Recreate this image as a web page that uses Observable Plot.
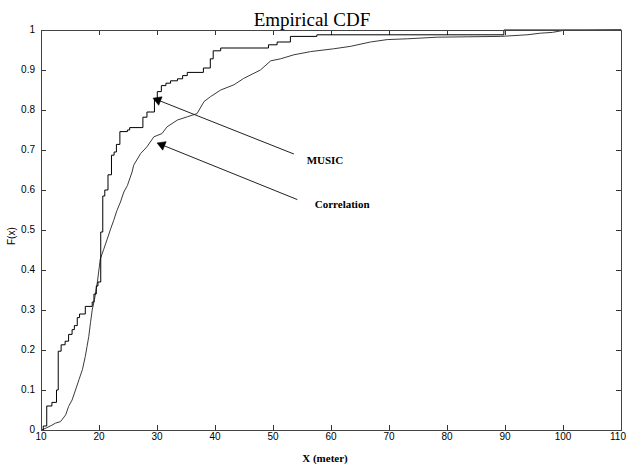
<!DOCTYPE html>
<html>
<head>
<meta charset="utf-8">
<script src="https://cdn.jsdelivr.net/npm/d3@7"></script>
<script src="https://cdn.jsdelivr.net/npm/@observablehq/plot@0.6"></script>
<style>
  html, body { margin: 0; padding: 0; background: #fff; }
  #chart svg { display: block; }
</style>
</head>
<body>
<div id="chart"></div>
<script>
// ---- data ----
const xTicks = [10, 20, 30, 40, 50, 60, 70, 80, 90, 100, 110];
const yTicks = [0, 0.1, 0.2, 0.3, 0.4, 0.5, 0.6, 0.7, 0.8, 0.9, 1];
const yTickLabels = ["0", "0.1", "0.2", "0.3", "0.4", "0.5", "0.6", "0.7", "0.8", "0.9", "1"];

// MUSIC empirical CDF (step positions and level after each step)
const musicX = [10.1, 10.39, 10.99, 11.88, 12.67, 12.97, 13.47, 14.16, 14.76, 15.36, 15.75, 16.25, 16.65, 17.64, 18.83, 19.13, 19.53, 19.82, 20.3, 20.65, 21.0, 21.55, 22.15, 22.6, 23.0, 23.6, 24.89, 25.29, 27.57, 28.27, 29.56, 30.05, 30.75, 31.54, 32.34, 33.53, 34.42, 35.22, 38.0, 39.19, 39.69, 40.98, 49.22, 50.71, 53.0, 57.56, 89.8, 110];
const musicY = [0, 0.01, 0.06, 0.069, 0.10, 0.197, 0.213, 0.222, 0.239, 0.251, 0.261, 0.281, 0.29, 0.309, 0.32, 0.34, 0.36, 0.37, 0.495, 0.585, 0.60, 0.638, 0.687, 0.695, 0.714, 0.746, 0.75, 0.756, 0.782, 0.795, 0.828, 0.846, 0.861, 0.867, 0.873, 0.878, 0.886, 0.894, 0.905, 0.928, 0.948, 0.955, 0.963, 0.970, 0.984, 0.988, 1.0, 1.0];

// Correlation empirical CDF (fine steps, traced)
const corrX = [10.19, 10.89, 11.88, 12.48, 13.37, 14.26, 14.76, 15.36, 15.95, 16.55, 17.14, 17.64, 17.94, 18.24, 18.53, 18.83, 19.23, 19.72, 20.22, 20.82, 21.41, 22.01, 22.51, 23.1, 23.7, 24.28, 24.89, 25.7, 25.98, 27.17, 28.27, 29.46, 30.85, 31.74, 33.53, 35.22, 36.91, 38.10, 39.19, 40.98, 43.26, 44.95, 47.83, 49.62, 51.31, 53.6, 56.47, 60.44, 63.32, 66.80, 69.68, 73.15, 78.32, 83.48, 89.24, 93.8, 96.09, 98.17, 100.06, 104.0, 110];
const corrY = [0, 0.005, 0.012, 0.017, 0.021, 0.038, 0.059, 0.075, 0.10, 0.126, 0.151, 0.184, 0.209, 0.234, 0.268, 0.30, 0.327, 0.37, 0.427, 0.452, 0.477, 0.503, 0.523, 0.549, 0.57, 0.595, 0.611, 0.645, 0.662, 0.691, 0.708, 0.733, 0.741, 0.758, 0.775, 0.783, 0.791, 0.821, 0.833, 0.85, 0.863, 0.879, 0.90, 0.923, 0.928, 0.938, 0.946, 0.953, 0.959, 0.97, 0.976, 0.978, 0.982, 0.983, 0.984, 0.988, 0.992, 0.994, 0.999, 0.999, 1.0];

// annotations
const annLabels = ["MUSIC", "Correlation"];
const annTextX = [55.8, 57.2];
const annTextY = [0.674, 0.564];
const arrowTailX = [53.6, 54.2];
const arrowTailY = [0.69, 0.576];
const arrowHeadX = [29.6, 30.3];
const arrowHeadY = [0.828, 0.716];

// ---- layout ----
const W = 626, H = 467, ML = 40.5, MR = 5.5, MT = 29.5, MB = 37.5;
const FW = W - ML - MR, FH = H - MT - MB;
const tickLen = 5;
const pxPerX = FW / 100, pxPerY = FH / 1;

// ---- tables ----
const music = musicX.map((x, i) => ({x, y: musicY[i]}));
const corr = corrX.map((x, i) => ({x, y: corrY[i]}));
const ann = annLabels.map((t, i) => {
  const dxp = (arrowHeadX[i] - arrowTailX[i]) * pxPerX;
  const dyp = -(arrowHeadY[i] - arrowTailY[i]) * pxPerY;
  const len = Math.hypot(dxp, dyp);
  const back = 3.5; // px back from the tip for the filled head
  return {
    t, tx: annTextX[i], ty: annTextY[i],
    x1: arrowTailX[i], y1: arrowTailY[i], x2: arrowHeadX[i], y2: arrowHeadY[i],
    hx: arrowHeadX[i] - (dxp / len) * back / pxPerX,
    hy: arrowHeadY[i] + (dyp / len) * back / pxPerY,
    rot: Math.atan2(dxp, -dyp) * 180 / Math.PI
  };
});

const serif = "'Liberation Serif', 'Times New Roman', serif";
const lastTick = xTicks[xTicks.length - 1];

const chart = Plot.plot({
  width: W, height: H,
  marginLeft: ML, marginRight: MR, marginTop: MT, marginBottom: MB,
  x: {domain: [10, 110]},
  y: {domain: [0, 1]},
  style: {fontFamily: "'Liberation Sans', Arial, sans-serif", fontSize: "10px", background: "#fff", color: "#000", overflow: "visible"},
  marks: [
    // inward tick marks on all four sides
    Plot.tickX(xTicks, {x: d => d, insetTop: FH - tickLen, stroke: "#333", shapeRendering: "crispEdges"}),
    Plot.tickX(xTicks, {x: d => d, insetBottom: FH - tickLen, stroke: "#333", shapeRendering: "crispEdges"}),
    Plot.tickY(yTicks, {y: d => d, insetRight: FW - tickLen, stroke: "#333", shapeRendering: "crispEdges"}),
    Plot.tickY(yTicks, {y: d => d, insetLeft: FW - tickLen, stroke: "#333", shapeRendering: "crispEdges"}),
    Plot.axisX(xTicks.slice(0, -1), {tickSize: 0, tickPadding: 3, label: null, fill: "#000"}),
    Plot.axisX([lastTick], {tickSize: 0, tickPadding: 3, label: null, fill: "#000", dx: -3}),
    Plot.axisY(yTicks, {tickSize: 0, tickPadding: 6, label: null, fill: "#000", tickFormat: (d, i) => yTickLabels[i]}),
    // curves
    Plot.line(corr, {x: "x", y: "y", stroke: "#3a3a3a", strokeWidth: 1}),
    Plot.line(music, {x: "x", y: "y", curve: "step-after", stroke: "#000", strokeWidth: 1}),
    Plot.frame({stroke: "#444", shapeRendering: "crispEdges"}),
    // annotations
    Plot.link(ann, {x1: "x1", y1: "y1", x2: "hx", y2: "hy", stroke: "#222", strokeWidth: 1}),
    Plot.dot(ann, {x: "hx", y: "hy", symbol: "triangle", r: 3.4, rotate: "rot", fill: "#000", stroke: "#000", strokeWidth: 0.5}),
    Plot.text(ann, {x: "tx", y: "ty", text: "t", textAnchor: "start", fontFamily: serif, fontWeight: "bold", fontSize: 11, fill: "#000"}),
    // titles
    Plot.text(["Empirical CDF"], {frameAnchor: "top", dx: -19, dy: -18, fontFamily: serif, fontSize: 19, fill: "#000"}),
    Plot.text(["X (meter)"], {frameAnchor: "bottom", dx: -6, dy: 32, fontFamily: serif, fontWeight: "bold", fontSize: 11, fill: "#000"}),
    Plot.text(["F(x)"], {frameAnchor: "left", dx: -29, dy: 15, rotate: -90, fontSize: 10, fill: "#000"})
  ]
});
document.getElementById("chart").appendChild(chart);
</script>
</body>
</html>
